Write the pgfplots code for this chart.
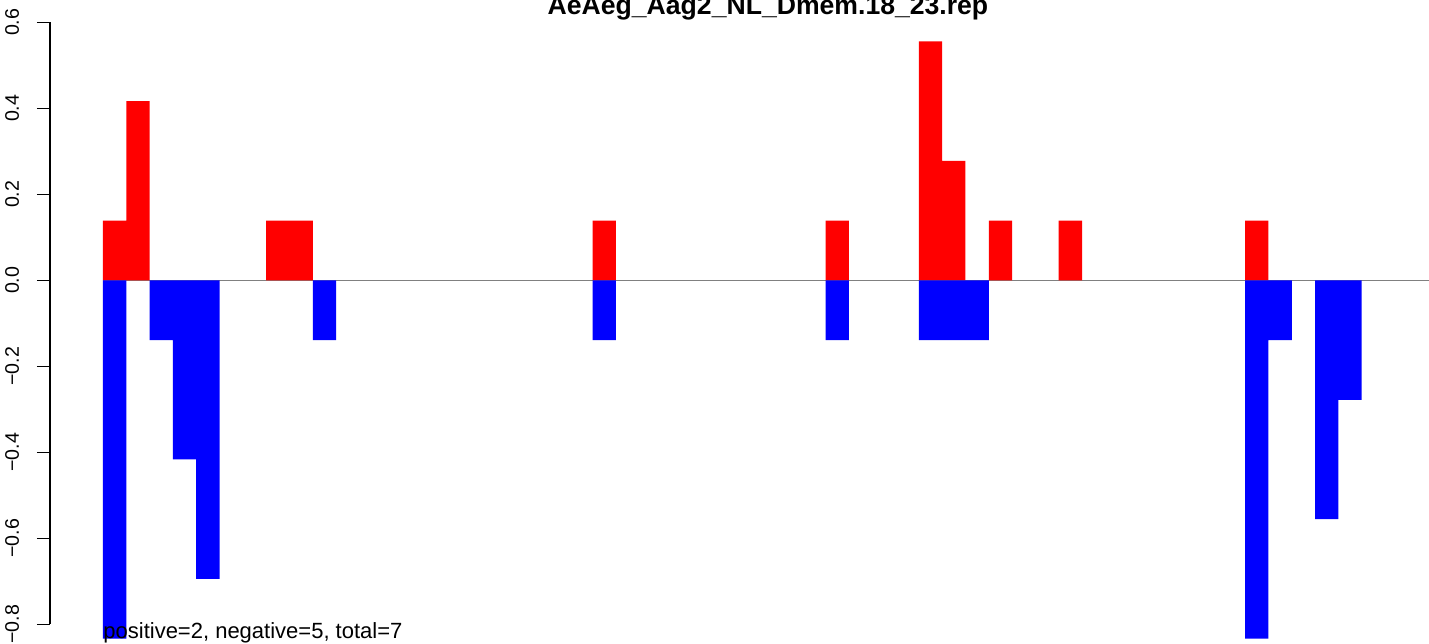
\documentclass[border=0pt]{standalone}
\usepackage{fontspec}
\setmainfont{Liberation Sans}
\usepackage{pgfplots}
\pgfplotsset{compat=1.18}
\begin{document}
\begin{tikzpicture}
\begin{axis}[
  at={(25pt,9.35pt)}, anchor=south west,
  scale only axis, width=689.5pt, height=301pt,
  xmin=-2.2737, xmax=56.886, ymin=-0.8, ymax=0.6,
  clip=false,
  axis y line*=left, axis x line=none,
  ytick={-0.8,-0.6,-0.4,-0.2,0,0.2,0.4,0.6},
  yticklabels={−0.8,−0.6,−0.4,−0.2,0.0,0.2,0.4,0.6},
  tick align=outside, major tick length=6.5pt,
  tick style={black, line width=0.6pt},
  axis line style={black, line width=0.6pt},
  yticklabel shift=8.75pt,
  yticklabel style={rotate=90, anchor=south, inner sep=0pt, font=\fontsize{9.8}{11}\selectfont},
]
\addplot[gray, line width=0.6pt] coordinates {(0,0) (56.886,0)};
\addplot[ybar, bar width=1, bar shift=0pt, fill=red, draw=none] coordinates {
(0.5,0.1389) (1.5,0.4167) (7.5,0.1389) (8.5,0.1389) (21.5,0.1389) (31.5,0.1389)
(35.5,0.5556) (36.5,0.2778) (38.5,0.1389) (41.5,0.1389) (49.5,0.1389)};
\addplot[ybar, bar width=1, bar shift=0pt, fill=blue, draw=none] coordinates {
(0.5,-0.8333) (2.5,-0.1389) (3.5,-0.4167) (4.5,-0.6944) (9.5,-0.1389) (21.5,-0.1389)
(31.5,-0.1389) (35.5,-0.1389) (36.5,-0.1389) (37.5,-0.1389) (49.5,-0.8333)
(50.5,-0.1389) (52.5,-0.5556) (53.5,-0.2778)};
\end{axis}
\node[anchor=base, inner sep=0pt, font=\bfseries\fontsize{13.3}{15}\selectfont] at (384pt,314.25pt) {AeAeg\_Aag2\_NL\_Dmem.18\_23.rep};
\node[anchor=base west, inner sep=0pt, font=\fontsize{11}{13}\selectfont] at (51.5pt,2.5pt) {positive=2, negative=5, total=7};
\pgfresetboundingbox
\useasboundingbox (0,0) rectangle (714.5pt,321.5pt);
\end{tikzpicture}
\end{document}
